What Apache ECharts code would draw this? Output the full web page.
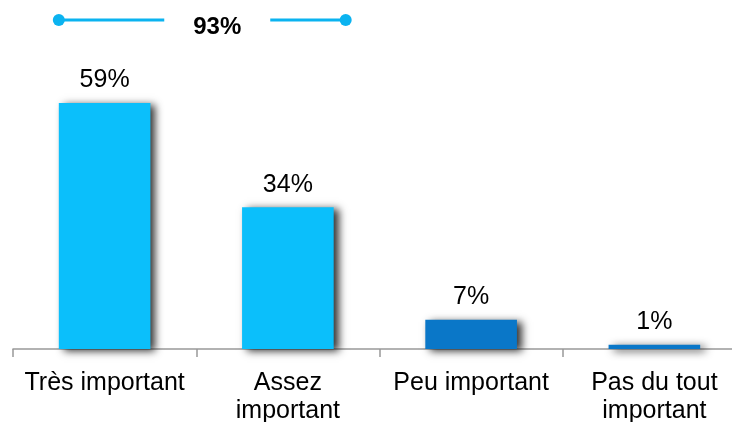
<!DOCTYPE html>
<html>
<head>
<meta charset="utf-8">
<script src="https://cdn.jsdelivr.net/npm/echarts@6/dist/echarts.min.js"></script>
<style>
  html, body { margin: 0; padding: 0; background: #fff; overflow: hidden; }
  #chart { width: 732px; height: 422px; }
</style>
</head>
<body>
<div id="chart"></div>
<script>
// Importance ratings, share of respondents (%)
const categories = ['Très important', 'Assez\nimportant', 'Peu important', 'Pas du tout\nimportant'];
const values = [59, 34, 7, 1];
const barColors = ['#0BBFFB', '#0BBFFB', '#0A77C8', '#0A77C8'];
// The first two answers are grouped under one bracket
const groupedIdx = [0, 1];

const FONT = '"Liberation Sans", Arial, sans-serif';
const chart = echarts.init(document.getElementById('chart'));

chart.setOption({
  animation: false,
  grid: {
    left: 13, width: 733, top: 57, bottom: 73,
    containLabel: false, outerBoundsMode: 'none'
  },
  xAxis: {
    type: 'category',
    data: categories,
    boundaryGap: true,
    axisLine: { show: true, lineStyle: { color: '#999', width: 1.5 } },
    axisTick: { show: true, length: 8, lineStyle: { color: '#999', width: 1.5 } },
    axisLabel: {
      color: '#000', fontFamily: FONT, fontSize: 25, margin: 20,
      lineHeight: 28, interval: 0
    }
  },
  yAxis: {
    type: 'value', min: 0, max: 70,
    show: false, splitLine: { show: false }
  },
  series: [{
    type: 'bar',
    barWidth: '50%',
    data: values.map((v, i) => ({
      value: v,
      itemStyle: {
        color: barColors[i],
        shadowColor: 'rgba(0,0,0,0.8)',
        shadowBlur: 8,
        shadowOffsetX: 5,
        shadowOffsetY: 2
      }
    })),
    label: {
      show: true, position: 'top', distance: 10,
      formatter: p => p.value + '%',
      color: '#000', fontFamily: FONT, fontSize: 25
    }
  }]
});

// Bracket over the grouped answers showing their combined share
const total = groupedIdx.reduce((s, i) => s + values[i], 0);
const c0 = chart.convertToPixel({ xAxisIndex: 0 }, categories[groupedIdx[0]]);
const c1 = chart.convertToPixel({ xAxisIndex: 0 }, categories[groupedIdx[groupedIdx.length - 1]]);
const half = (chart.convertToPixel({ xAxisIndex: 0 }, categories[1]) - c0) * 0.25;
const x0 = c0 - half;
const x1 = c1 + half + 12;
const y = 20;
const mid = (x0 + x1) / 2 + 15;
const lineColor = '#0BB3F0';

chart.setOption({
  graphic: [
    { type: 'line', shape: { x1: x0, y1: y, x2: mid - 53, y2: y }, style: { stroke: lineColor, lineWidth: 3 } },
    { type: 'line', shape: { x1: mid + 53, y1: y, x2: x1, y2: y }, style: { stroke: lineColor, lineWidth: 3 } },
    { type: 'circle', shape: { cx: x0, cy: y, r: 6 }, style: { fill: lineColor } },
    { type: 'circle', shape: { cx: x1, cy: y, r: 6 }, style: { fill: lineColor } },
    {
      type: 'text', x: mid, y: y + 7,
      style: {
        text: total + '%', fill: '#000', font: 'bold 24px ' + FONT,
        textAlign: 'center', textVerticalAlign: 'middle'
      }
    }
  ]
});
</script>
</body>
</html>
